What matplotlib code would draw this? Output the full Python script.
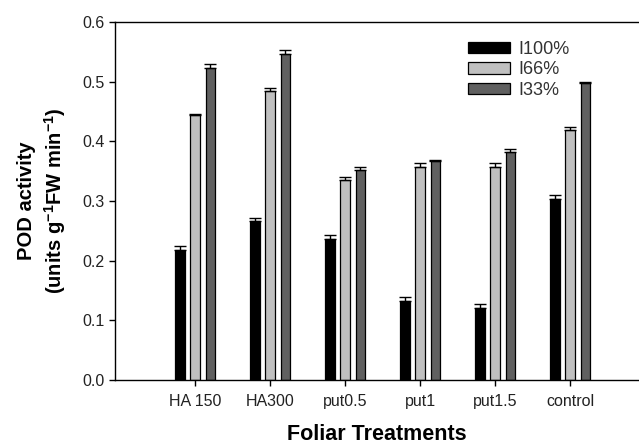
import matplotlib.pyplot as plt
import numpy as np

plt.rcParams['font.family'] = ['Liberation Sans', 'DejaVu Sans']
plt.rcParams['mathtext.fontset'] = 'custom'
plt.rcParams['mathtext.rm'] = 'Liberation Sans'
plt.rcParams['mathtext.bf'] = 'Liberation Sans:bold'

# treatments on the x axis
treatments = ['HA 150', 'HA300', 'put0.5', 'put1', 'put1.5', 'control']
series = ['I100%', 'I66%', 'I33%']

# POD activity values
i100 = [0.218, 0.267, 0.236, 0.133, 0.120, 0.303]
i66 = [0.445, 0.485, 0.336, 0.358, 0.358, 0.419]
i33 = [0.523, 0.546, 0.352, 0.368, 0.382, 0.498]

# upper error bars
i100_err = [0.006, 0.004, 0.007, 0.007, 0.007, 0.007]
i66_err = [0.001, 0.005, 0.005, 0.006, 0.006, 0.005]
i33_err = [0.007, 0.007, 0.005, 0.001, 0.005, 0.001]

colors = ['#000000', '#c0c0c0', '#606060']

fig = plt.figure(figsize=(6.39, 4.44), dpi=100)
ax = fig.add_axes([0.18, 0.144, 0.82, 0.806])

x = np.arange(len(treatments))
w = 0.13
step = 0.205
vals = [i100, i66, i33]
errs = [i100_err, i66_err, i33_err]
for k in range(3):
    xs = x + (k - 1) * step
    ax.bar(xs, vals[k], width=w, color=colors[k], edgecolor='black',
           linewidth=0.9, label=series[k], zorder=2)
    e = np.array(errs[k])
    ax.errorbar(xs, vals[k], yerr=[np.zeros_like(e), e], fmt='none',
                ecolor='black', elinewidth=1, capsize=4, capthick=1, zorder=3)

ax.set_xlim(-1.067, 5.92)
ax.set_ylim(0, 0.6)
ax.set_xticks(x)
ax.set_xticklabels(treatments, fontsize=11.5, color='#222222')
ax.set_yticks(np.arange(0, 0.61, 0.1))
ax.set_yticklabels(['%.1f' % v for v in np.arange(0, 0.61, 0.1)], fontsize=11.5, color='#222222')
ax.tick_params(direction='out', length=4, width=1)
ax.tick_params(axis='x', pad=6)
ax.spines['right'].set_visible(False)
for s in ['left', 'top', 'bottom']:
    ax.spines[s].set_linewidth(1)

ax.set_xlabel('Foliar Treatments', fontsize=15.5, fontweight='bold', labelpad=11)
ax.set_ylabel('POD activity\n(units g$^{\\mathbf{-1}}$FW min$^{\\mathbf{-1}}$)',
              fontsize=14.5, fontweight='bold', labelpad=10, linespacing=1.35)

ax.legend(loc='upper left', bbox_to_anchor=(0.66, 0.968), frameon=False,
          fontsize=13, handlelength=2.3, handleheight=0.6, handletextpad=0.5,
          labelspacing=0.2, borderaxespad=0, labelcolor='#333333')

fig.savefig('out.png', dpi=100)
